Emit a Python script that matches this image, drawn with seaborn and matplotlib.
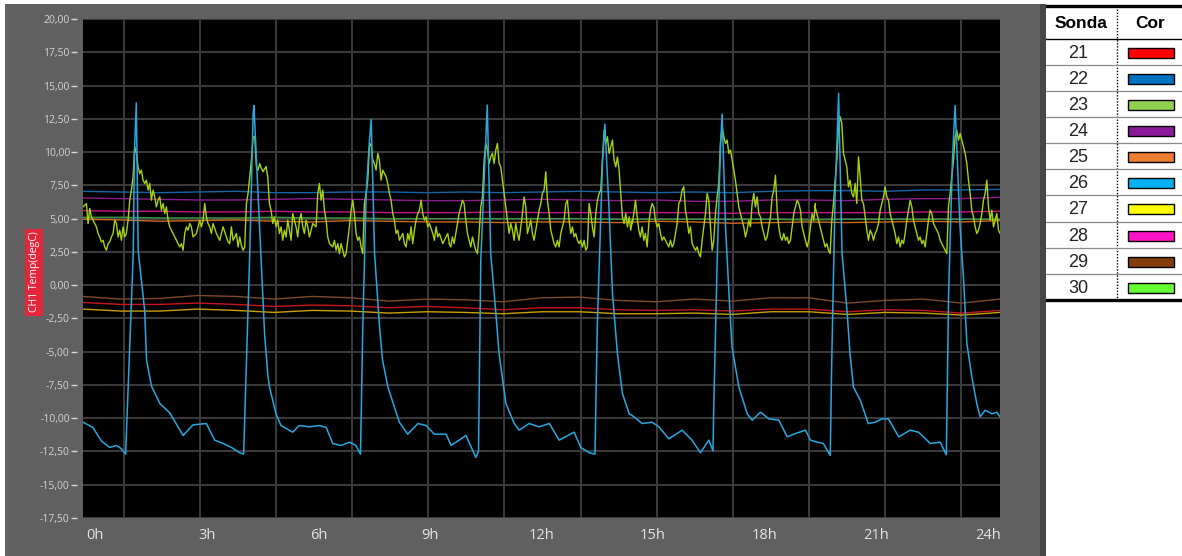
import numpy as np
import pandas as pd
import matplotlib
matplotlib.use("Agg")
import matplotlib.pyplot as plt
import seaborn as sns
from matplotlib.patches import Rectangle
from matplotlib.lines import Line2D
from matplotlib.ticker import FuncFormatter, FixedLocator

# ---------------- data ----------------
x_labels = ["0h", "3h", "6h", "9h", "12h", "15h", "18h", "21h", "24h"]
y_ticks = [20.0, 17.5, 15.0, 12.5, 10.0, 7.5, 5.0, 2.5, 0.0, -2.5, -5.0, -7.5, -10.0, -12.5, -15.0, -17.5]

sondas = ["21", "22", "23", "24", "25", "26", "27", "28", "29", "30"]
cores = ["#ff0000", "#0070c0", "#92d050", "#8b1a9a", "#ed7d31",
         "#00b0f0", "#ffff00", "#ff14c8", "#843c0c", "#66ff33"]

# hourly readings of the slowly varying probes
steady_hours = [0, 1, 2, 3, 4, 5, 6, 7, 8, 9, 10, 11, 12, 13, 14, 15, 16, 17, 18, 19, 20, 21, 22, 23, 24]
s22 = [7.05, 7.0, 6.95, 7.0, 7.05, 6.95, 6.95, 7.0, 7.0, 6.95, 7.0, 6.95, 7.0, 7.05, 7.0, 6.95, 7.0, 6.95, 7.05, 7.1, 7.1, 7.05, 7.15, 7.15, 7.2]
s24 = [6.55, 6.5, 6.45, 6.4, 6.4, 6.45, 6.5, 6.45, 6.4, 6.35, 6.35, 6.4, 6.45, 6.4, 6.35, 6.4, 6.3, 6.3, 6.4, 6.4, 6.35, 6.45, 6.5, 6.5, 6.6]
s28 = [5.6, 5.55, 5.55, 5.5, 5.5, 5.55, 5.5, 5.5, 5.45, 5.45, 5.45, 5.5, 5.45, 5.45, 5.45, 5.45, 5.45, 5.4, 5.45, 5.45, 5.45, 5.45, 5.5, 5.5, 5.55]
s30 = [5.1, 5.1, 5.05, 5.05, 5.05, 5.1, 5.05, 5.05, 5.0, 5.0, 5.0, 5.0, 5.0, 5.0, 4.95, 4.95, 4.95, 4.95, 4.95, 4.9, 4.95, 4.95, 4.95, 4.95, 4.95]
s25 = [4.95, 4.9, 4.8, 4.85, 4.9, 4.8, 4.75, 4.85, 4.8, 4.75, 4.75, 4.7, 4.75, 4.75, 4.7, 4.8, 4.75, 4.65, 4.7, 4.75, 4.7, 4.75, 4.8, 4.75, 4.85]
s29 = [-0.85, -1.05, -1.0, -0.78, -0.85, -1.05, -0.85, -0.95, -1.2, -1.05, -1.1, -1.25, -0.95, -0.9, -1.15, -1.25, -1.05, -1.2, -0.95, -0.95, -1.35, -1.15, -1.05, -1.35, -1.05]
s21 = [-1.3, -1.45, -1.45, -1.35, -1.45, -1.6, -1.5, -1.55, -1.7, -1.6, -1.7, -1.85, -1.7, -1.7, -1.85, -1.9, -1.85, -1.95, -1.8, -1.8, -2.0, -1.85, -1.9, -2.1, -1.9]
s27 = [-1.8, -1.95, -1.95, -1.8, -1.9, -2.05, -1.9, -1.95, -2.1, -2.0, -2.05, -2.15, -2.0, -2.0, -2.15, -2.15, -2.1, -2.2, -2.0, -2.0, -2.2, -2.05, -2.1, -2.25, -2.05]

# probe 23 (noisy), read in five consecutive stretches of the day
s23_part1 = [5.88, 6.01, 6.13, 4.63, 5.76, 5.13, 4.88, 4.63, 4.38, 3.88,
             3.62, 3.25, 3.37, 2.87, 2.62, 3.12, 3.25, 3.62, 3.88, 4.88,
             4.63, 3.62, 4.13, 3.37, 4.38, 3.62, 3.88, 4.88, 6.38, 7.14,
             8.14, 10.40, 9.90, 8.89, 8.39, 8.64, 7.89, 7.64, 7.89, 7.14,
             7.64, 6.38, 7.14, 6.63, 5.88, 6.38, 6.63, 5.63, 6.13, 5.38,
             5.88, 4.88, 4.38, 4.13, 3.88, 3.62, 3.37, 3.12, 2.87, 3.12,
             2.62, 3.88, 4.38, 4.13, 4.63, 4.38, 3.62, 3.75, 3.88, 4.38,
             4.88, 4.38, 4.88, 6.13, 5.13, 4.63, 4.38, 3.88, 4.63, 4.25,
             3.88, 3.62, 3.37, 3.88, 4.38, 4.00, 3.62, 3.25, 3.12, 4.38,
             3.37, 3.62, 3.88, 2.87, 3.62, 3.00, 2.62, 2.87, 6.13, 6.89,
             8.14, 9.39, 11.15, 11.15, 8.89, 8.64, 9.14, 8.77, 8.52, 8.77,
             8.89]
s23_part2 = [8.89, 8.14, 6.13, 5.63, 4.63, 5.13, 4.38, 4.88, 3.88, 4.38,
             3.37, 4.13, 3.62, 4.88, 4.13, 3.37, 5.38, 4.88, 4.38, 3.62,
             4.88, 5.38, 4.38, 3.88, 4.88, 4.38, 3.62, 4.13, 4.63, 4.50,
             4.38, 6.89, 7.64, 6.38, 7.14, 5.63, 4.88, 3.62, 3.12, 3.00,
             2.87, 3.37, 2.62, 3.12, 2.37, 3.12, 2.62, 2.12, 2.37, 3.37,
             4.38, 5.63, 6.38, 5.38, 3.88, 3.37, 3.62, 2.87, 2.37, 6.13,
             6.89, 7.89, 10.40, 10.65, 9.39, 9.14, 8.64, 9.90, 9.39, 7.89,
             8.64, 8.39, 8.14, 7.64, 6.89, 6.38, 5.38, 4.88, 3.88, 4.13,
             3.37, 3.62, 3.88, 3.12, 2.87, 3.88, 3.37, 4.38, 3.12, 4.13,
             4.88, 5.38, 5.63, 6.38, 5.38, 4.88, 5.13, 4.38, 4.63, 4.25,
             3.88, 3.37, 4.38, 3.62, 3.88, 3.50, 3.12, 3.37, 3.62, 3.88,
             3.12]
s23_part3 = [3.12, 2.87, 3.62, 3.12, 3.88, 4.63, 5.38, 5.88, 6.38, 6.13,
             4.88, 3.88, 3.37, 2.87, 3.62, 3.12, 2.62, 2.37, 3.88, 5.88,
             6.63, 9.39, 10.65, 10.15, 9.14, 9.64, 9.90, 9.14, 10.15, 10.65,
             9.14, 8.89, 7.89, 6.89, 5.88, 4.88, 3.88, 4.63, 4.13, 3.37,
             4.63, 3.88, 3.37, 4.38, 5.38, 6.63, 5.88, 3.88, 4.38, 4.88,
             3.88, 3.37, 4.13, 4.88, 5.63, 6.13, 6.89, 7.14, 8.52, 6.38,
             5.38, 4.13, 3.62, 3.12, 2.87, 3.37, 2.87, 3.88, 4.38, 4.88,
             6.13, 6.38, 4.88, 3.88, 4.38, 3.62, 3.88, 3.37, 3.12, 3.37,
             2.87, 3.37, 2.62, 2.87, 6.13, 5.38, 4.38, 3.62, 5.38, 6.38,
             6.89, 7.14, 9.39, 11.65, 10.65, 11.15, 9.90, 10.40, 10.90, 9.39,
             8.89, 9.64, 8.64, 6.89, 5.13, 4.63, 5.38, 4.38, 5.13, 4.13,
             4.88]
s23_part4 = [4.63, 5.38, 6.38, 5.13, 4.13, 3.62, 4.38, 3.37, 3.88, 2.87,
             4.63, 5.63, 6.13, 5.88, 4.88, 4.38, 4.63, 3.88, 3.37, 3.62,
             3.37, 3.12, 2.87, 3.37, 2.87, 3.12, 3.88, 4.63, 6.13, 6.38,
             7.14, 7.39, 5.63, 4.88, 3.88, 4.38, 3.12, 2.87, 2.62, 2.87,
             2.37, 2.12, 3.37, 4.38, 5.38, 6.89, 6.38, 4.38, 2.62, 3.37,
             5.38, 6.63, 7.64, 10.65, 11.90, 11.15, 10.65, 10.90, 9.90, 10.15,
             9.39, 8.64, 7.89, 6.89, 5.88, 5.38, 4.88, 4.38, 3.62, 4.13,
             4.88, 4.38, 6.13, 6.89, 5.88, 6.63, 5.38, 5.13, 4.38, 3.88,
             3.37, 3.62, 4.38, 5.13, 6.63, 7.14, 8.26, 5.63, 4.38, 3.62,
             3.37, 3.88, 3.37, 3.62, 3.12, 3.37, 4.38, 5.38, 5.88, 6.38,
             6.13, 5.63, 4.38, 3.88, 3.37, 2.87, 3.37, 4.38, 5.38, 4.88,
             6.13]
s23_part5 = [5.88, 5.38, 4.88, 4.38, 3.88, 3.37, 2.87, 3.12, 2.62, 2.37,
             4.88, 6.13, 7.89, 9.39, 11.90, 12.65, 12.15, 9.90, 9.39, 8.89,
             7.39, 7.89, 6.89, 6.63, 7.64, 6.13, 9.64, 8.14, 6.38, 6.13,
             5.13, 4.13, 3.37, 4.13, 3.88, 3.37, 3.88, 4.13, 4.63, 5.63,
             6.13, 6.63, 7.39, 6.63, 6.38, 5.38, 4.88, 4.38, 3.88, 3.12,
             3.62, 2.87, 3.37, 3.12, 3.88, 4.88, 5.63, 6.38, 5.88, 4.88,
             4.38, 3.88, 3.37, 3.62, 3.12, 3.37, 2.87, 3.88, 4.88, 5.63,
             5.38, 4.63, 4.38, 4.13, 3.88, 3.37, 3.12, 2.87, 2.62, 2.37,
             5.88, 6.89, 8.14, 9.39, 11.15, 11.65, 10.90, 11.40, 10.90, 10.40,
             9.90, 9.14, 7.89, 6.89, 5.63, 5.13, 4.38, 3.88, 4.13, 4.63,
             5.38, 6.38, 6.89, 7.89, 5.88, 4.88, 5.63, 4.38, 4.88, 5.38,
             4.13, 3.88]
s23_part_start = [-0.068, 4.740, 9.548, 14.356, 19.164]   # hour at which each stretch starts
s23_step = 0.04378                                        # logger sampling interval (h)

# probe 26 (spiky), readings (hour, degC)
s26_t = [-0.07, 0.19, 0.41, 0.63, 0.81, 0.94, 1.05, 1.25, 1.28, 1.33, 1.38, 1.55, 1.60, 1.73, 1.95,
         2.21, 2.56, 2.82, 3.17, 3.39, 3.61, 3.83, 4.05, 4.15, 4.31, 4.40, 4.42, 4.70, 4.79, 4.83,
         5.00, 5.13, 5.44, 5.61, 5.88, 6.14, 6.32, 6.49, 6.71, 6.93, 7.10, 7.22, 7.28, 7.37, 7.45,
         7.50, 7.59, 7.72, 7.80, 7.94, 8.11, 8.24, 8.46, 8.73, 8.94, 9.16, 9.47, 9.60, 9.99, 10.07,
         10.25, 10.32, 10.38, 10.51, 10.55, 10.64, 10.77, 10.86, 11.04, 11.26, 11.39, 11.65, 11.91,
         12.18, 12.44, 12.83, 13.01, 13.23, 13.38, 13.44, 13.58, 13.64, 13.75, 13.84, 13.97, 14.10,
         14.28, 14.36, 14.62, 14.88, 15.06, 15.32, 15.67, 15.93, 16.15, 16.37, 16.48, 16.50, 16.59,
         16.68, 16.72, 16.81, 16.90, 16.98, 17.16, 17.38, 17.51, 17.73, 17.95, 18.21, 18.43, 18.65,
         18.91, 19.04, 19.22, 19.38, 19.56, 19.60, 19.69, 19.78, 19.87, 20.00, 20.08, 20.17, 20.35,
         20.56, 20.74, 20.92, 21.09, 21.36, 21.66, 21.88, 22.19, 22.45, 22.61, 22.67, 22.77, 22.84,
         22.97, 23.06, 23.15, 23.28, 23.41, 23.50, 23.63, 23.81, 23.94, 24.02]
s26_v = [-10.3, -10.7, -11.7, -12.2, -12.05, -12.3, -12.7, 2.4, 9.9, 13.7, 2.6, -1.9, -5.65, -7.6, -8.9,
         -9.6, -11.3, -10.5, -10.4, -11.65, -11.9, -12.2, -12.6, -12.7, 2.37, 12.9, 13.5, -3.65, -6.9, -7.66,
         -9.67, -10.55, -11.05, -10.55, -10.65, -10.55, -10.7, -11.9, -12.05, -11.8, -12.05, -12.7, -3.15, 6.9, 10.65,
         12.45, 2.37, -3.15, -5.65, -7.66, -9.17, -10.3, -11.2, -10.4, -10.55, -11.2, -11.2, -12.05, -11.3, -11.8,
         -12.95, -12.5, 1.86, 10.65, 13.53, 2.4, -1.9, -5.15, -8.9, -10.4, -10.9, -10.4, -10.65,
         -10.4, -11.65, -11.05, -12.2, -12.6, -12.7, -3.15, 9.4, 12.1, 5.63, -0.64, -5.15, -8.14,
         -9.67, -9.8, -10.4, -10.3, -10.65, -11.55, -10.9, -11.65, -12.6, -11.65, -12.45, -9.2, 1.86,
         10.65, 12.85, 4.38, -0.64, -4.65, -7.66, -9.67, -10.15, -9.55, -10.05, -10.15, -11.4, -11.15,
         -10.9, -11.65, -11.8, -11.9, -12.8, -5.65, 6.9, 14.4, 2.4, -1.9, -5.15, -7.66, -8.65,
         -10.4, -10.3, -10.05, -10.05, -11.4, -10.9, -11.05, -11.9, -11.8, -12.75, -0.64, 9.4, 13.5,
         4.38, 0.6, -4.4, -6.9, -8.9, -9.9, -9.4, -9.67, -9.55, -9.9]

# colours of the traces on the chart
line_colors = {"22": "#1565a8", "24": "#8e1c8e", "28": "#c8178a", "30": "#3a9446",
               "25": "#d0681e", "29": "#7d4b2d", "21": "#c81620", "27": "#c8a000",
               "23": "#a6d30c", "26": "#27a8e0"}

# ---------------- figure ----------------
W, H = 1182, 556
def fx(px): return px / W
def fy(py): return 1 - py / H

fig = plt.figure(figsize=(W / 100, H / 100), dpi=100)
fig.patch.set_facecolor("white")
fig.add_artist(Rectangle((fx(5), 0), fx(1040) - fx(5), fy(4), transform=fig.transFigure,
                         facecolor="#606060", edgecolor="none", zorder=0))
fig.add_artist(Rectangle((fx(1040), 0), fx(1046) - fx(1040), fy(4), transform=fig.transFigure,
                         facecolor="#474747", edgecolor="none", zorder=0))

ax = fig.add_axes([fx(83), fy(518), fx(1000) - fx(83), fy(19) - fy(518)])
ax.set_facecolor("black")

steady_t = np.linspace(-0.07, 24.02, len(steady_hours))
steady_series = [("22", s22), ("24", s24), ("28", s28), ("30", s30), ("25", s25),
                 ("29", s29), ("21", s21), ("27", s27)]
steady_df = pd.concat([pd.DataFrame({"t": steady_t, "v": vals, "sonda": s}) for s, vals in steady_series],
                      ignore_index=True)
sns.lineplot(data=steady_df, x="t", y="v", hue="sonda", palette=line_colors, estimator=None,
             sort=False, legend=False, linewidth=1.0, ax=ax)

parts = [s23_part1, s23_part2, s23_part3, s23_part4, s23_part5]
yg_t = np.concatenate([st + np.arange(len(p)) * s23_step for st, p in zip(s23_part_start, parts)])
yg_v = np.concatenate([np.array(p) for p in parts])
df23 = pd.DataFrame({"t": yg_t, "v": yg_v})
sns.lineplot(data=df23, x="t", y="v", color=line_colors["23"], estimator=None, sort=False,
             linewidth=1.0, ax=ax)

df26 = pd.DataFrame({"t": s26_t, "v": s26_v})
sns.lineplot(data=df26, x="t", y="v", color=line_colors["26"], estimator=None, sort=False,
             linewidth=1.1, ax=ax)

ax.set_xlim(-0.07, 24.02)
ax.set_ylim(-17.5, 20.0)
ax.set_xlabel("")
ax.set_ylabel("")
for sp in ax.spines.values():
    sp.set_visible(False)
ax.spines["left"].set_position(("outward", 4))

ax.yaxis.set_major_locator(FixedLocator(y_ticks))
ax.yaxis.set_major_formatter(FuncFormatter(lambda v, _: f"{v:.2f}".replace(".", ",")))
ax.tick_params(axis="y", colors="#d4d4d4", length=4, width=1, pad=1.5, labelsize=7.5)
for lab in ax.get_yticklabels():
    lab.set_family(["Open Sans", "DejaVu Sans"])

ax.xaxis.set_major_locator(FixedLocator(np.linspace(0.25, 23.7, len(x_labels))))
ax.set_xticklabels(x_labels)
ax.xaxis.set_minor_locator(FixedLocator(np.arange(1, 24, 2)))
ax.tick_params(axis="x", which="both", length=0, colors="#e4e4e4", pad=7, labelsize=10.5)
for lab in ax.get_xticklabels():
    lab.set_family(["Open Sans", "DejaVu Sans"])

ax.grid(False)
ax.yaxis.grid(True, color="#3c3c3c", linewidth=1.4)
ax.xaxis.grid(True, which="minor", color="#3c3c3c", linewidth=1.4)
ax.set_axisbelow(True)

fig.text(fx(34), fy(272), "CH1 Temp(degC)", rotation=90, color="white", fontsize=7.5,
         ha="center", va="center", family=["Open Sans", "DejaVu Sans"],
         bbox=dict(boxstyle="square,pad=0.3", facecolor="#e3263a", edgecolor="none"))

# ---------------- table (Sonda / Cor) ----------------
tab = fig.add_axes([fx(1046), 0, fx(1182) - fx(1046), 1])
tab.set_xlim(1046, 1182)
tab.set_ylim(556, 0)
tab.axis("off")

top, head_bottom, bottom = 5.5, 38.5, 300.0
row_h = (bottom - head_bottom) / len(sondas)
tab.add_line(Line2D([1046, 1182], [top, top], color="black", linewidth=2.4))
tab.add_line(Line2D([1046, 1182], [head_bottom, head_bottom], color="black", linewidth=1.0))
tab.add_line(Line2D([1046, 1182], [bottom, bottom], color="black", linewidth=2.4))
tab.add_line(Line2D([1117, 1117], [top, bottom], color="black", linewidth=1.0, linestyle=(0, (1, 1.2))))
tab.text(1081, (top + head_bottom) / 2 + 1, "Sonda", ha="center", va="center", fontsize=12.5,
         fontweight="bold", family=["Liberation Sans", "DejaVu Sans"], color="black")
tab.text(1150, (top + head_bottom) / 2 + 1, "Cor", ha="center", va="center", fontsize=12.5,
         fontweight="bold", family=["Liberation Sans", "DejaVu Sans"], color="black")
for i, (s, c) in enumerate(zip(sondas, cores)):
    y0 = head_bottom + i * row_h
    yc = y0 + row_h / 2
    if i > 0:
        tab.add_line(Line2D([1046, 1182], [y0, y0], color="#8a8a8a", linewidth=0.9))
    tab.text(1078, yc + 1.5, s, ha="center", va="center", fontsize=13,
             family=["Liberation Sans", "DejaVu Sans"], color="#222222")
    tab.add_patch(Rectangle((1128, yc - 4), 46, 10, facecolor=c, edgecolor="black", linewidth=1.0))

fig.savefig("out.png", dpi=100, facecolor="white")
